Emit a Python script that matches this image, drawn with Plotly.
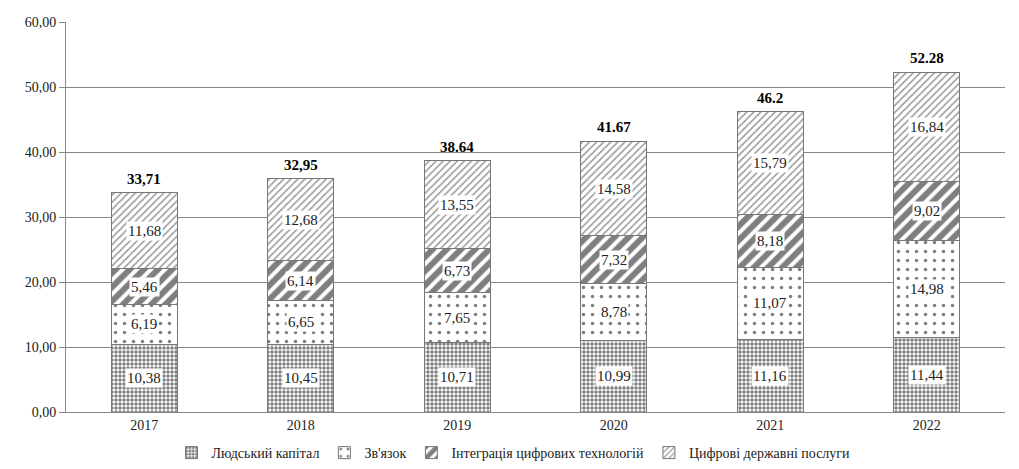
import plotly.graph_objects as go

years = ["2017", "2018", "2019", "2020", "2021", "2022"]
human = [10.38, 10.45, 10.71, 10.99, 11.16, 11.44]
connect = [6.19, 6.65, 7.65, 8.78, 11.07, 14.98]
integr = [5.46, 6.14, 6.73, 7.32, 8.18, 9.02]
services = [11.68, 12.68, 13.55, 14.58, 15.79, 16.84]
total_labels = ["33,71", "32,95", "38.64", "41.67", "46.2", "52.28"]
names = ["Людський капітал", "Зв'язок", "Інтеграція цифрових технологій", "Цифрові державні послуги"]

series = [human, connect, integr, services]
patterns = [
    dict(shape=".", size=4, solidity=0.6, fgcolor="black", bgcolor="white"),
    dict(shape=".", size=9, solidity=0.12, fgcolor="black", bgcolor="white"),
    dict(shape="/", size=10, solidity=0.6, fgcolor="black", bgcolor="white"),
    dict(shape="/", size=5, solidity=0.3, fgcolor="#333", bgcolor="white"),
]

font = "Liberation Serif, Times New Roman, serif"
fig = go.Figure()
for name, vals, pat in zip(names, series, patterns):
    fig.add_trace(go.Bar(
        x=years, y=vals, name=name, width=0.42,
        marker=dict(color="white", pattern=pat, line=dict(color="#777", width=1)),
        hoverinfo="y",
    ))

annotations = []
base = [0.0] * len(years)
for vals in series:
    for i, v in enumerate(vals):
        annotations.append(dict(
            x=i, y=base[i] + v / 2, xref="x", yref="y",
            text=f"{v:.2f}".replace(".", ","), showarrow=False,
            bgcolor="white", borderpad=1,
            font=dict(family=font, size=15, color="#222"),
        ))
        base[i] += v
for i, t in enumerate(total_labels):
    annotations.append(dict(
        x=i, y=base[i], xref="x", yref="y", text=f"<b>{t}</b>",
        showarrow=False, yanchor="bottom", yshift=4,
        font=dict(family=font, size=15, color="black"),
    ))

fig.update_layout(
    width=1011, height=461, barmode="stack",
    margin=dict(l=58, r=14, t=14, b=57, autoexpand=False),
    plot_bgcolor="white", paper_bgcolor="white",
    font=dict(family=font, size=13, color="#222"),
    annotations=annotations,
    legend=dict(orientation="h", x=0.5, xanchor="center", y=0.0, yanchor="bottom",
                yref="container", xref="container",
                font=dict(family=font, size=14), traceorder="normal",
                itemwidth=30, tracegroupgap=0),
    separators=", ",
)
fig.update_yaxes(range=[0, 60], dtick=10, tickformat=".2f", automargin=False,
                 showgrid=True, gridcolor="#888", gridwidth=1,
                 showline=True, linecolor="#888", ticks="outside", ticklen=6, tickcolor="#888",
                 tickfont=dict(family=font, size=14))
fig.update_xaxes(type="category", range=[-0.5, len(years) - 0.5], automargin=False,
                 showline=True, linecolor="#888",
                 tickfont=dict(family=font, size=14))
fig.write_html("out.html")
